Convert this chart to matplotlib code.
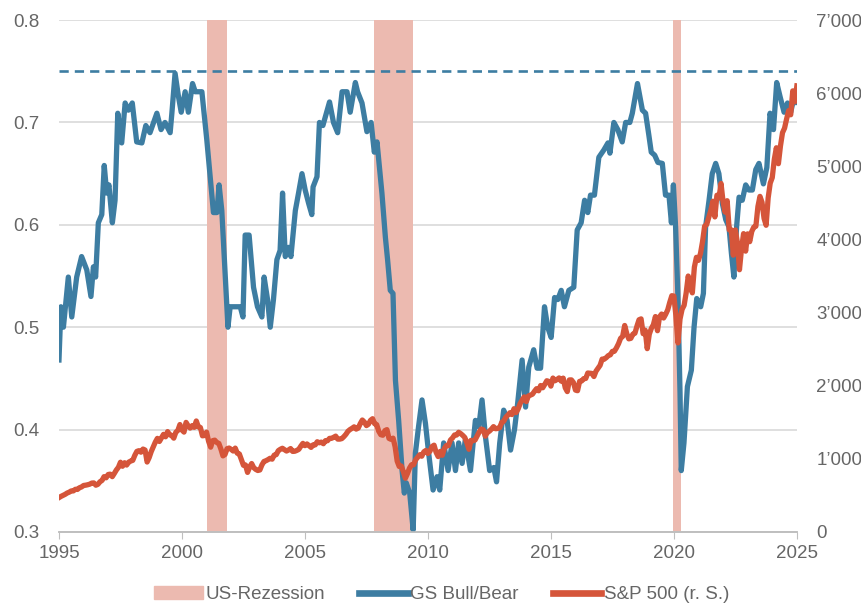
import numpy as np
import pandas as pd
import matplotlib
matplotlib.use("Agg")
import matplotlib.pyplot as plt
from matplotlib.patches import Patch
from matplotlib.lines import Line2D
from matplotlib.ticker import FuncFormatter

plt.rcParams['font.family'] = ['Liberation Sans', 'DejaVu Sans']

# GS Bull/Bear indicator (left axis)
gs_year = [1995.00, 1995.08, 1995.18, 1995.38, 1995.52, 1995.72, 1995.92, 1996.13, 1996.30, 1996.40,
           1996.49, 1996.60, 1996.74, 1996.84, 1996.94, 1997.03, 1997.17, 1997.28, 1997.39, 1997.55,
           1997.69, 1997.82, 1997.98, 1998.16, 1998.37, 1998.53, 1998.70, 1998.98, 1999.15, 1999.31,
           1999.52, 1999.59, 1999.72, 1999.86, 1999.97, 2000.13, 2000.26, 2000.43, 2000.54, 2000.81,
           2001.01, 2001.28, 2001.42, 2001.51, 2001.62, 2001.87, 2001.96, 2002.37, 2002.48, 2002.57,
           2002.73, 2002.91, 2003.07, 2003.25, 2003.34, 2003.48, 2003.59, 2003.72, 2003.86, 2003.99,
           2004.09, 2004.20, 2004.33, 2004.43, 2004.61, 2004.74, 2004.88, 2005.01, 2005.15, 2005.28,
           2005.33, 2005.49, 2005.59, 2005.73, 2006.00, 2006.16, 2006.33, 2006.51, 2006.71, 2006.84,
           2007.05, 2007.14, 2007.32, 2007.52, 2007.69, 2007.82, 2007.93, 2008.13, 2008.27, 2008.36,
           2008.47, 2008.58, 2008.68, 2008.81, 2008.95, 2009.04, 2009.12, 2009.26, 2009.40, 2009.49,
           2009.62, 2009.76, 2009.90, 2010.03, 2010.21, 2010.37, 2010.48, 2010.64, 2010.82, 2010.98,
           2011.12, 2011.25, 2011.39, 2011.52, 2011.73, 2011.93, 2012.07, 2012.20, 2012.34, 2012.51,
           2012.68, 2012.79, 2012.92, 2013.08, 2013.22, 2013.36, 2013.52, 2013.65, 2013.83, 2013.97,
           2014.10, 2014.30, 2014.44, 2014.58, 2014.74, 2014.87, 2015.01, 2015.15, 2015.28, 2015.42,
           2015.55, 2015.73, 2015.93, 2016.07, 2016.23, 2016.37, 2016.50, 2016.61, 2016.77, 2016.95,
           2017.15, 2017.32, 2017.40, 2017.56, 2017.72, 2017.90, 2018.04, 2018.21, 2018.31, 2018.52,
           2018.72, 2018.85, 2018.98, 2019.08, 2019.22, 2019.35, 2019.53, 2019.66, 2019.80, 2019.90,
           2019.98, 2020.07, 2020.16, 2020.25, 2020.30, 2020.41, 2020.55, 2020.71, 2020.82, 2020.93,
           2021.09, 2021.20, 2021.29, 2021.43, 2021.56, 2021.70, 2021.83, 2021.97, 2022.11, 2022.24,
           2022.34, 2022.44, 2022.55, 2022.65, 2022.78, 2022.92, 2023.05, 2023.19, 2023.33, 2023.46,
           2023.64, 2023.78, 2023.91, 2024.05, 2024.18, 2024.32, 2024.48, 2024.62, 2024.75, 2024.89,
           2025.00]
gs_val = [0.468, 0.520, 0.500, 0.549, 0.510, 0.549, 0.569, 0.556, 0.530, 0.559,
          0.549, 0.602, 0.610, 0.658, 0.631, 0.639, 0.602, 0.624, 0.709, 0.680,
          0.719, 0.712, 0.719, 0.681, 0.680, 0.697, 0.690, 0.709, 0.693, 0.700,
          0.690, 0.709, 0.748, 0.725, 0.710, 0.730, 0.710, 0.738, 0.730, 0.730,
          0.683, 0.612, 0.612, 0.639, 0.614, 0.500, 0.520, 0.520, 0.510, 0.590,
          0.590, 0.539, 0.520, 0.510, 0.549, 0.527, 0.500, 0.527, 0.566, 0.575,
          0.631, 0.569, 0.578, 0.569, 0.614, 0.631, 0.650, 0.634, 0.621, 0.610,
          0.637, 0.647, 0.700, 0.697, 0.720, 0.700, 0.690, 0.730, 0.730, 0.710,
          0.739, 0.730, 0.719, 0.691, 0.700, 0.671, 0.681, 0.631, 0.588, 0.566,
          0.536, 0.533, 0.448, 0.409, 0.360, 0.338, 0.348, 0.338, 0.302, 0.377,
          0.403, 0.429, 0.406, 0.377, 0.341, 0.354, 0.341, 0.387, 0.360, 0.387,
          0.360, 0.387, 0.367, 0.390, 0.360, 0.409, 0.403, 0.429, 0.393, 0.360,
          0.363, 0.349, 0.387, 0.419, 0.409, 0.380, 0.400, 0.426, 0.468, 0.422,
          0.461, 0.478, 0.460, 0.460, 0.520, 0.500, 0.490, 0.529, 0.527, 0.536,
          0.520, 0.536, 0.539, 0.595, 0.602, 0.624, 0.612, 0.629, 0.629, 0.666,
          0.673, 0.680, 0.670, 0.700, 0.693, 0.681, 0.700, 0.700, 0.709, 0.738,
          0.712, 0.709, 0.688, 0.671, 0.668, 0.661, 0.660, 0.629, 0.629, 0.602,
          0.639, 0.598, 0.533, 0.436, 0.360, 0.387, 0.442, 0.458, 0.500, 0.528,
          0.520, 0.533, 0.598, 0.624, 0.650, 0.660, 0.650, 0.621, 0.605, 0.598,
          0.572, 0.549, 0.598, 0.627, 0.624, 0.639, 0.634, 0.634, 0.654, 0.660,
          0.640, 0.656, 0.709, 0.693, 0.739, 0.725, 0.710, 0.719, 0.710, 0.725,
          0.720]

# S&P 500 monthly closes (right axis), Jan 1995 .. Jan 2025
sp500 = [470, 487, 501, 515, 533, 545, 562, 562, 584, 582, 605, 616,
         636, 640, 646, 654, 669, 671, 640, 652, 687, 705, 757, 741,
         786, 791, 757, 801, 848, 885, 954, 899, 947, 915, 955, 970,
         980, 1049, 1102, 1112, 1091, 1134, 1121, 957, 1017, 1099, 1164, 1229,
         1280, 1238, 1286, 1335, 1302, 1373, 1329, 1320, 1283, 1363, 1389, 1469,
         1394, 1366, 1499, 1452, 1421, 1455, 1431, 1518, 1437, 1429, 1315, 1320,
         1366, 1240, 1160, 1249, 1256, 1224, 1211, 1134, 1041, 1060, 1139, 1148,
         1130, 1107, 1147, 1077, 1067, 990, 912, 916, 815, 886, 936, 880,
         856, 841, 848, 917, 964, 975, 990, 1008, 996, 1051, 1058, 1112,
         1131, 1145, 1126, 1107, 1121, 1141, 1102, 1104, 1115, 1130, 1174, 1212,
         1181, 1204, 1181, 1157, 1192, 1191, 1234, 1220, 1229, 1207, 1249, 1248,
         1280, 1281, 1295, 1311, 1270, 1270, 1277, 1304, 1336, 1378, 1401, 1418,
         1438, 1407, 1421, 1482, 1531, 1503, 1455, 1474, 1527, 1549, 1481, 1468,
         1379, 1331, 1323, 1386, 1400, 1280, 1267, 1283, 1166, 969, 896, 903,
         826, 735, 798, 873, 919, 919, 987, 1021, 1057, 1036, 1096, 1115,
         1074, 1104, 1169, 1187, 1089, 1031, 1102, 1049, 1141, 1183, 1181, 1258,
         1286, 1327, 1326, 1364, 1345, 1321, 1292, 1219, 1131, 1253, 1247, 1258,
         1312, 1366, 1408, 1398, 1310, 1362, 1379, 1407, 1441, 1412, 1416, 1426,
         1498, 1515, 1569, 1598, 1631, 1606, 1686, 1633, 1682, 1757, 1806, 1848,
         1783, 1859, 1872, 1884, 1924, 1960, 1931, 2003, 1972, 2018, 2068, 2059,
         1995, 2105, 2068, 2086, 2107, 2063, 2104, 1972, 1920, 2079, 2080, 2044,
         1940, 1932, 2060, 2065, 2097, 2099, 2174, 2171, 2168, 2126, 2199, 2239,
         2279, 2364, 2363, 2384, 2412, 2423, 2470, 2472, 2519, 2575, 2648, 2674,
         2824, 2714, 2641, 2648, 2705, 2718, 2816, 2902, 2914, 2712, 2760, 2507,
         2704, 2784, 2834, 2946, 2752, 2942, 2980, 2926, 2977, 3038, 3141, 3231,
         3226, 2954, 2585, 2912, 3044, 3100, 3271, 3500, 3363, 3270, 3622, 3756,
         3714, 3811, 3973, 4181, 4204, 4298, 4395, 4523, 4308, 4605, 4567, 4766,
         4516, 4374, 4530, 4132, 4132, 3785, 4130, 3955, 3586, 3872, 4080, 3840,
         4077, 3970, 4109, 4169, 4180, 4450, 4589, 4508, 4288, 4194, 4568, 4770,
         4846, 5096, 5254, 5036, 5278, 5460, 5522, 5648, 5762, 5705, 6032, 5882,
         6100]
sp_dates = pd.date_range("1995-01-01", periods=len(sp500), freq="MS")
sp_year = sp_dates.year + (sp_dates.month - 1) / 12

# recessions (start, end)
rec_start = [2001.0, 2007.8, 2019.95]
rec_end = [2001.85, 2009.4, 2020.3]

threshold = 0.75

blue = "#3D7DA2"
red = "#D5553A"
rec_col = "#ECBAB0"
txt = "#666666"
grid = "#D9D9D9"

fig = plt.figure(figsize=(8.61, 6.08), dpi=100)
ax = fig.add_axes([0.0685, 0.125, 0.857, 0.842])
ax2 = ax.twinx()

for s, e in zip(rec_start, rec_end):
    ax.axvspan(s, e, color=rec_col, lw=0, zorder=1)

ax.axhline(threshold, color=blue, lw=1.9, dashes=(3.5, 2.3), zorder=2)
ax.plot(gs_year, gs_val, color=blue, lw=3.8, solid_joinstyle='round', zorder=3)
ax2.plot(sp_year, sp500, color=red, lw=3.8, solid_joinstyle='round')

ax.set_xlim(1995, 2025)
ax.set_ylim(0.3, 0.8)
ax2.set_ylim(0, 7000)
ax.set_xticks(range(1995, 2026, 5))
ax.set_yticks(np.arange(0.3, 0.81, 0.1))
ax.yaxis.set_major_formatter(FuncFormatter(lambda v, p: f"{v:.1f}"))
ax2.set_yticks(range(0, 7001, 1000))
ax2.yaxis.set_major_formatter(
    FuncFormatter(lambda v, p: f"{int(v):,}".replace(",", "\u2019")))

ax.grid(axis='y', color=grid, lw=1.2, zorder=0)
ax.set_axisbelow(True)
for a in (ax, ax2):
    for sp in ("left", "right", "top"):
        a.spines[sp].set_visible(False)
    a.spines["bottom"].set_color("#BFBFBF")
    a.spines["bottom"].set_linewidth(1.2)
ax.tick_params(axis='x', colors=txt, labelsize=13.5, length=5, color="#BFBFBF", pad=4)
ax.tick_params(axis='y', colors=txt, labelsize=13.5, length=0, pad=14)
ax2.tick_params(axis='y', colors=txt, labelsize=13.5, length=0, pad=14)

handles = [Patch(color=rec_col),
           Line2D([], [], color=blue, lw=4.8),
           Line2D([], [], color=red, lw=4.8)]
labels = ["US-Rezession", "GS Bull/Bear", "S&P 500 (r. S.)"]
leg = fig.legend(handles, labels, loc='center', bbox_to_anchor=(0.513, 0.022),
                 ncol=3, frameon=False, fontsize=13.5, handlelength=2.6,
                 handletextpad=0.15, columnspacing=1.8)
for t in leg.get_texts():
    t.set_color(txt)

fig.savefig("out.png", dpi=100)
